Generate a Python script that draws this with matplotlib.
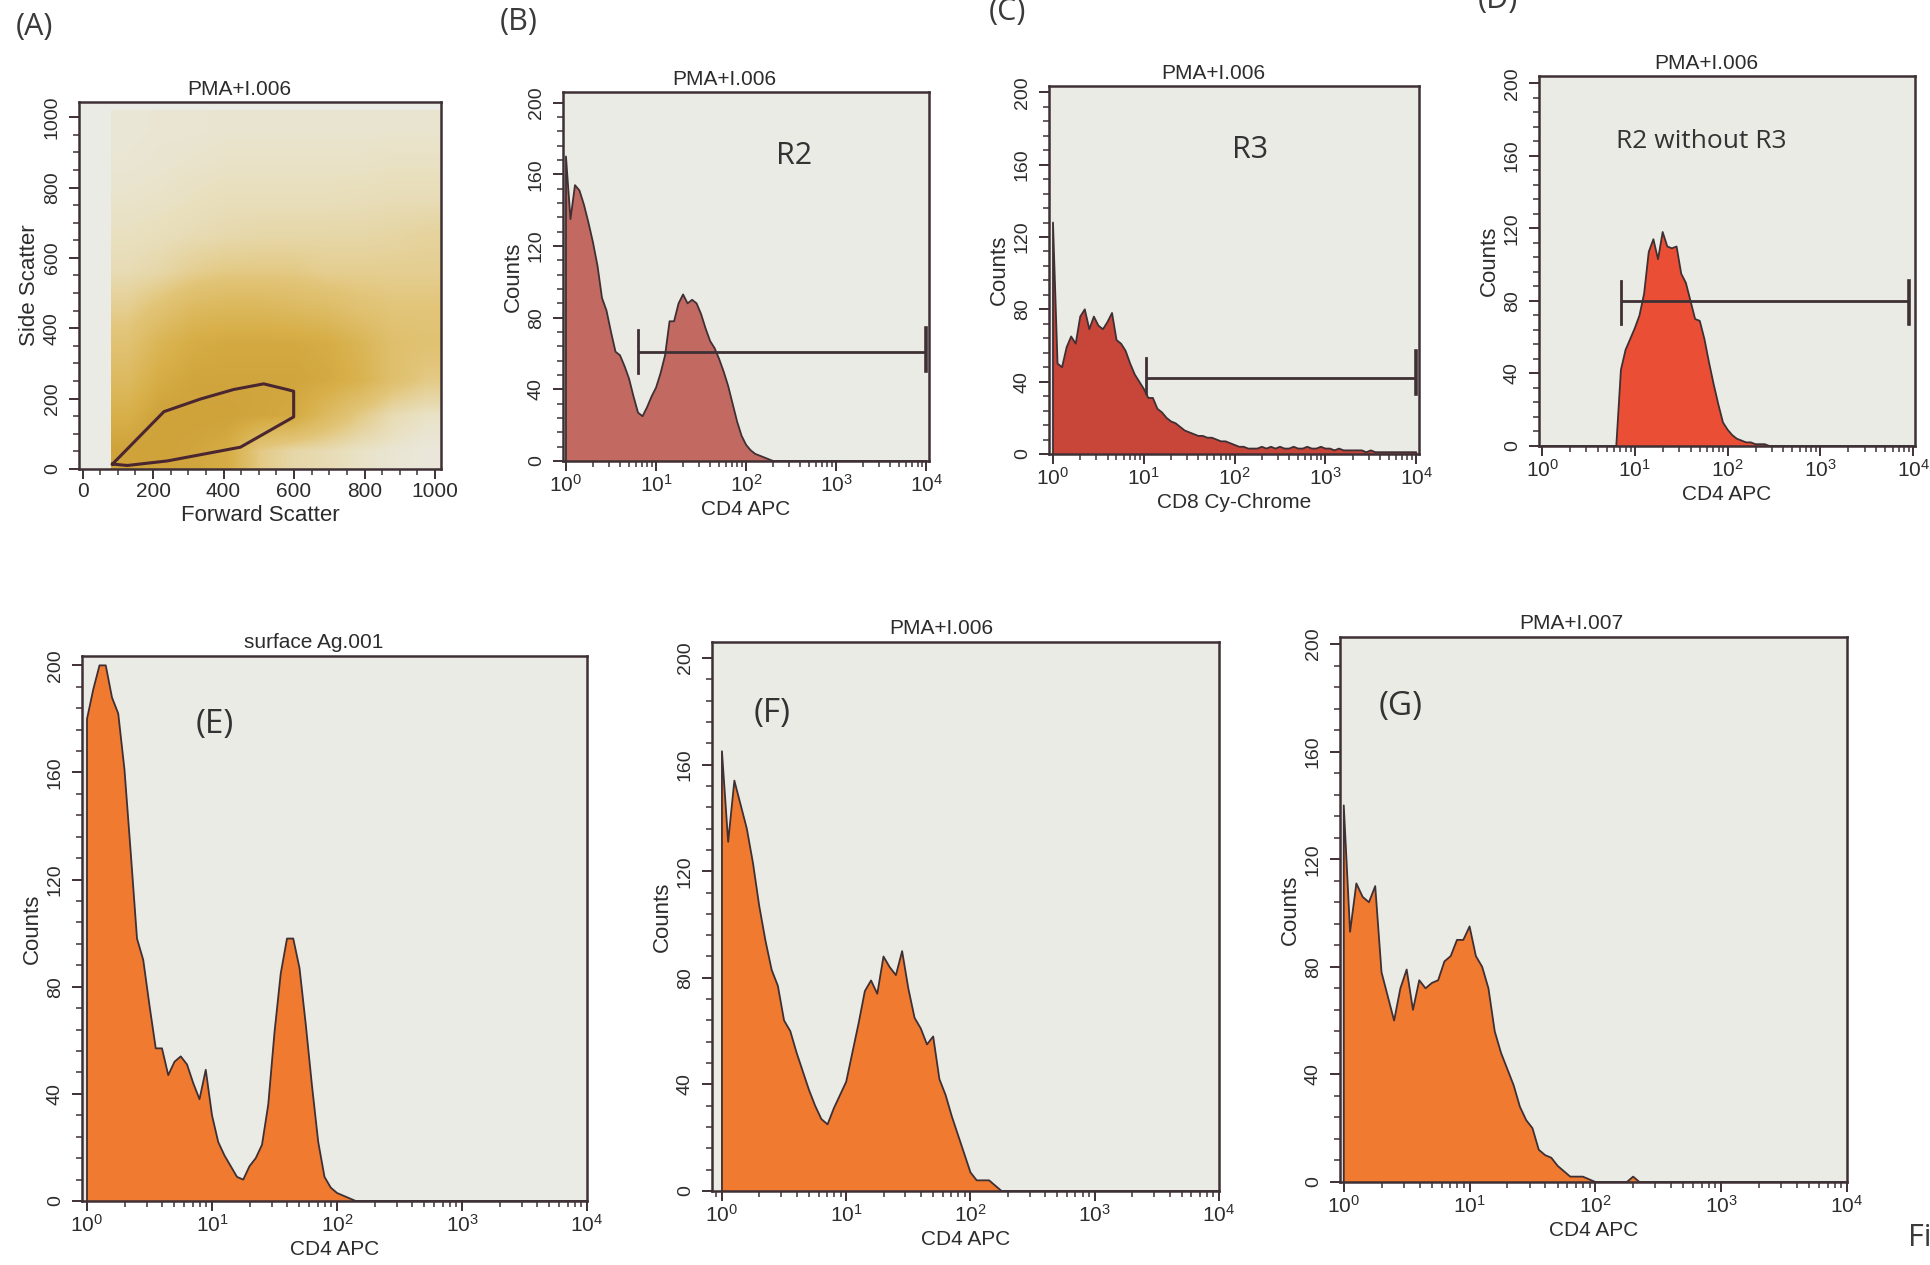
import numpy as np
import matplotlib
matplotlib.use("Agg")
import matplotlib.pyplot as plt
from matplotlib.colors import LinearSegmentedColormap
from matplotlib.ticker import MultipleLocator, FixedLocator, LogFormatterMathtext, NullFormatter, LogLocator

# histogram channels: one every 0.05 decade, from 10^0 to 10^4
CHAN_STEP = 0.05
N_CHAN = 81

# counts, starting at 10^0 (missing tail = 0)
counts_b = [170, 135, 154, 151, 143, 133, 122, 109, 91, 84, 72, 61, 59, 53, 46, 36, 27, 25, 30, 36,
            41, 49, 59, 78, 78, 88, 93, 88, 90, 88, 82, 74, 67, 63, 57, 50, 42, 32, 22, 14,
            9, 6, 4, 3, 2, 1]
counts_c = [128, 50, 48, 59, 65, 61, 76, 80, 69, 76, 71, 69, 73, 78, 63, 61, 57, 50, 44, 40,
            36, 31, 31, 25, 23, 20, 18, 17, 15, 13, 12, 11, 10, 10, 9, 9, 8, 7, 7, 6,
            5, 4, 4, 3, 3, 3, 4, 3, 4, 3, 4, 3, 3, 4, 3, 3, 4, 3, 3, 4,
            3, 3, 2, 3, 2, 2, 2, 2, 2, 1, 2, 1, 1, 1, 1, 1, 1, 1, 1, 1, 1]
counts_d = [0, 0, 0, 0, 0, 0, 0, 0, 0, 0, 0, 0, 0, 0, 0, 0, 0, 42, 53, 59,
            65, 72, 84, 107, 114, 103, 118, 110, 109, 110, 95, 90, 80, 70, 69, 59, 46, 34, 23, 13,
            9, 6, 4, 3, 2, 2, 1, 1, 1]
counts_e = [180, 191, 200, 200, 188, 182, 161, 130, 98, 90, 73, 57, 57, 47, 52, 54, 51, 44, 38, 49,
            32, 22, 17, 13, 9, 8, 13, 16, 21, 36, 63, 85, 98, 98, 87, 66, 43, 22, 9, 5,
            3, 2, 1]
counts_f = [165, 131, 154, 145, 136, 123, 107, 94, 83, 77, 64, 60, 52, 45, 38, 32, 27, 25, 31, 36,
            41, 52, 63, 75, 79, 74, 88, 84, 81, 90, 76, 65, 61, 55, 58, 42, 36, 28, 21, 14,
            7, 4, 4, 4, 2]
counts_g = [140, 93, 111, 106, 104, 110, 78, 69, 60, 72, 79, 64, 75, 72, 74, 75, 82, 84, 90, 90,
            95, 84, 80, 72, 56, 48, 42, 36, 28, 23, 20, 12, 10, 9, 6, 4, 2, 2, 2, 1,
            0, 0, 0, 0, 0, 0, 2]

# gates (marker y, from, to) and end bar ranges
gate_b = (61, 10 ** 0.8, 10 ** 4.0, (49, 73), (50, 74))
gate_c = (42, 10 ** 1.02, 10 ** 4.0, (34, 53), (33, 57))
gate_d = (80, 10 ** 0.85, 10 ** 3.96, (67, 91), (67, 91))

# FSC/SSC scatter: relative dot density, rows = SSC bands (bottom up), cols = FSC bands 80..1020
density_a = [
    [1.00, 1.00, 0.95, 0.85, 0.35, 0.20, 0.15, 0.08, 0.05, 0.03],
    [0.80, 1.00, 1.00, 1.00, 0.95, 0.90, 0.60, 0.35, 0.15, 0.08],
    [0.60, 0.85, 0.95, 0.95, 0.95, 0.95, 0.90, 0.75, 0.50, 0.35],
    [0.45, 0.70, 0.85, 0.90, 0.90, 0.90, 0.85, 0.70, 0.50, 0.45],
    [0.30, 0.45, 0.60, 0.65, 0.65, 0.60, 0.55, 0.45, 0.40, 0.40],
    [0.15, 0.20, 0.30, 0.35, 0.35, 0.35, 0.30, 0.30, 0.30, 0.30],
    [0.10, 0.12, 0.15, 0.18, 0.20, 0.20, 0.20, 0.20, 0.22, 0.25],
    [0.07, 0.08, 0.10, 0.12, 0.12, 0.12, 0.12, 0.13, 0.14, 0.14],
    [0.05, 0.06, 0.07, 0.08, 0.08, 0.08, 0.08, 0.08, 0.09, 0.09],
    [0.04, 0.05, 0.05, 0.06, 0.06, 0.06, 0.06, 0.06, 0.06, 0.06],
]
gate_fsc = [85, 127, 241, 448, 599, 599, 580, 514, 429, 335, 231, 85]
gate_ssc = [14, 10, 23, 62, 148, 221, 226, 242, 226, 199, 163, 14]

W, H = 1931, 1265
BG = "#ebebe5"
EDGE = "#3e3034"
TXT = "#2c2c2c"

plt.rcParams["font.family"] = ["Liberation Sans", "DejaVu Sans"]
plt.rcParams["mathtext.default"] = "regular"

fig = plt.figure(figsize=(W / 100, H / 100), dpi=100)
fig.patch.set_facecolor("white")


def rect(l, t, r, b):
    # pixel box -> figure fraction
    return [l / W, 1 - b / H, (r - l) / W, (b - t) / H]


def style(ax, xfs=15, yfs=14):
    ax.set_facecolor(BG)
    for s in ax.spines.values():
        s.set_color(EDGE)
        s.set_linewidth(1.8)
    ax.tick_params(which="major", direction="out", length=7, width=1.4, color=EDGE, labelcolor=TXT)
    ax.tick_params(which="minor", direction="out", length=4, width=1.1, color=EDGE)
    ax.tick_params(axis="x", labelsize=xfs, pad=2)
    ax.tick_params(axis="y", labelsize=yfs, pad=6)
    for lab in ax.get_yticklabels():
        lab.set_rotation(90)
        lab.set_va("center")


def hist_panel(box, counts, fill, title, xlabel, xlo, xhi, ytop, tx):
    ax = fig.add_axes(rect(*box))
    vals = np.zeros(N_CHAN)
    vals[:len(counts)] = counts
    x = 10 ** (np.arange(N_CHAN) * CHAN_STEP)
    # close the outline down to the baseline at both ends
    xs = np.concatenate([[x[0]], x, [x[-1]]])
    ys = np.concatenate([[0], vals, [0]])
    ax.fill(xs, ys, color=fill, lw=0)
    ax.plot(xs, ys, color=EDGE, lw=1.3)
    ax.set_xscale("log")
    ax.set_xlim(10 ** xlo, 10 ** xhi)
    ax.set_ylim(0, ytop)
    ax.xaxis.set_major_locator(FixedLocator([1, 10, 100, 1000, 10000]))
    ax.xaxis.set_major_formatter(LogFormatterMathtext())
    ax.xaxis.set_minor_locator(LogLocator(base=10, subs=np.arange(2, 10)))
    ax.xaxis.set_minor_formatter(NullFormatter())
    ax.set_yticks(range(0, 201, 40))
    ax.yaxis.set_minor_locator(MultipleLocator(8))
    style(ax)
    ax.set_ylabel("Counts", fontsize=16, color=TXT, labelpad=3)
    ax.set_xlabel(xlabel, fontsize=15, color=TXT, labelpad=3)
    ax.text(tx, 1.008, title, transform=ax.transAxes, ha="center", va="bottom",
            fontsize=15, color=TXT)
    return ax


def draw_gate(ax, gate):
    y, x0, x1, bar0, bar1 = gate
    ax.plot([x0, x1], [y, y], color=EDGE, lw=2, solid_capstyle="butt")
    ax.plot([x0, x0], bar0, color=EDGE, lw=2)
    ax.plot([x1, x1], bar1, color=EDGE, lw=2.6)


# (A) forward / side scatter
axa = fig.add_axes(rect(79, 102, 441, 469))
cmap_a = LinearSegmentedColormap.from_list(
    "fsc", [(0, BG), (0.1, "#e9e0c0"), (0.4, "#e2c579"), (0.8, "#d8b04a"), (1, "#cfa23a")])
axa.imshow(np.array(density_a), extent=(80, 1020, 0, 1020), origin="lower", cmap=cmap_a,
           vmin=0, vmax=1, interpolation="bilinear", aspect="auto")
axa.plot(gate_fsc, gate_ssc, color="#4a2630", lw=2.2)
axa.set_xlim(-10, 1017)
axa.set_ylim(0, 1043)
axa.set_xticks(range(0, 1001, 200))
axa.set_yticks(range(0, 1001, 200))
axa.xaxis.set_minor_locator(MultipleLocator(50))
axa.yaxis.set_minor_locator(MultipleLocator(50))
style(axa)
axa.set_xlabel("Forward Scatter", fontsize=16, color=TXT, labelpad=3)
axa.set_ylabel("Side Scatter", fontsize=16, color=TXT, labelpad=3)
axa.text(0.442, 1.008, "PMA+I.006", transform=axa.transAxes, ha="center", va="bottom",
         fontsize=15, color=TXT)

# (B)-(D) top row histograms
axb = hist_panel((563, 92, 929, 461), counts_b, "#c26a61", "PMA+I.006", "CD4 APC", -0.033, 4.03, 206, 0.44)
draw_gate(axb, gate_b)
axc = hist_panel((1049, 86, 1419, 454), counts_c, "#c8453a", "PMA+I.006", "CD8 Cy-Chrome", -0.044, 4.03, 203.5, 0.443)
draw_gate(axc, gate_c)
axd = hist_panel((1539, 76, 1915, 446), counts_d, "#ea4f36", "PMA+I.006", "CD4 APC", -0.033, 4.02, 204, 0.444)
draw_gate(axd, gate_d)

# (E)-(G) bottom row histograms
axe = hist_panel((82, 656, 587, 1201), counts_e, "#f07a30", "surface Ag.001", "CD4 APC", -0.04, 4.0, 203.5, 0.458)
axf = hist_panel((712, 642, 1219, 1191), counts_f, "#f07a30", "PMA+I.006", "CD4 APC", -0.08, 4.0, 206, 0.453)
axg = hist_panel((1340, 637, 1847, 1182), counts_g, "#f07a30", "PMA+I.007", "CD4 APC", -0.03, 4.0, 202.6, 0.457)

# region / panel annotations inside plots
ann = dict(family=["Open Sans", "DejaVu Sans"], color="#333333", ha="center", va="center")
axb.text(0.631, 0.827, "R2", transform=axb.transAxes, fontsize=22, **ann)
axc.text(0.543, 0.826, "R3", transform=axc.transAxes, fontsize=22, **ann)
axd.text(0.431, 0.822, "R2 without R3", transform=axd.transAxes, fontsize=19, **ann)
axe.text(0.263, 0.875, "(E)", transform=axe.transAxes, fontsize=24, **ann)
axf.text(0.118, 0.869, "(F)", transform=axf.transAxes, fontsize=24, **ann)
axg.text(0.120, 0.873, "(G)", transform=axg.transAxes, fontsize=24, **ann)

# panel letters in the figure margin
lab = dict(family=["Open Sans", "DejaVu Sans"], color="#3a3a3a", ha="left", va="center", fontsize=22)
fig.text(16 / W, 1 - 27 / H, "(A)", **lab)
fig.text(500 / W, 1 - 22 / H, "(B)", **lab)
fig.text(989 / W, 1 - 12 / H, "(C)", **lab)
fig.text(1478 / W, 1 - 0 / H, "(D)", **lab)
fig.text(1908 / W, 1 - 1238 / H, "Fig", **lab)

fig.savefig("out.png", dpi=100, facecolor="white")
